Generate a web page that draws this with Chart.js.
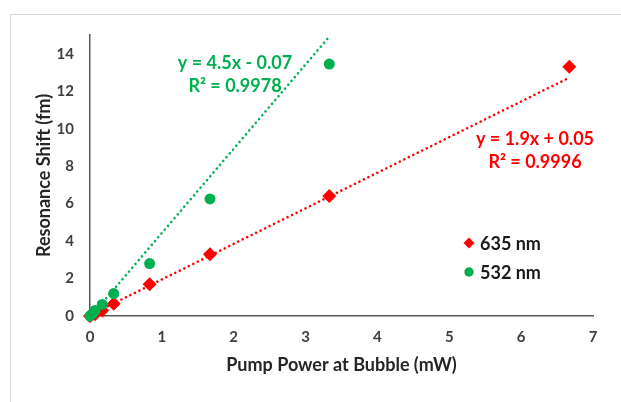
<!DOCTYPE html>
<html>
<head>
<meta charset="utf-8">
<script src="https://cdn.jsdelivr.net/npm/chart.js@4/dist/chart.umd.min.js"></script>
<style>
  html, body { margin: 0; padding: 0; background: #fff; }
  #wrap { width: 621px; height: 402px; position: relative; }
</style>
</head>
<body>
<div id="wrap"><canvas id="c" width="621" height="402"></canvas></div>
<script>
// Pump power (mW) and resonance shift (fm) for the two pump wavelengths
const power635 = [0, 0.07, 0.17, 0.33, 0.83, 1.67, 3.33, 6.67];
const shift635 = [0, 0.1, 0.3, 0.65, 1.7, 3.3, 6.4, 13.3];
const power532 = [0, 0.03, 0.07, 0.17, 0.33, 0.83, 1.67, 3.33];
const shift532 = [0, 0.1, 0.3, 0.62, 1.2, 2.8, 6.25, 13.45];

// Linear fits: [slope, intercept, R²]
const fit635 = [1.9, 0.05, 0.9996];
const fit532 = [4.5, -0.07, 0.9978];

const seriesNames = ['635 nm', '532 nm'];
const xTicks = [0, 1, 2, 3, 4, 5, 6, 7];
const yTicks = [0, 2, 4, 6, 8, 10, 12, 14];

const RED = '#FF0000';
const GREEN = '#00B050';
const FONT = 'Lato, "Open Sans", sans-serif';

function pts(xs, ys) { return xs.map((x, i) => ({ x, y: ys[i] })); }
function fitLine(xs, fit) {
  const lo = Math.min(...xs), hi = Math.max(...xs);
  return [lo, hi].map(x => ({ x, y: fit[0] * x + fit[1] }));
}
function eqText(fit) {
  const sign = fit[1] < 0 ? ' - ' : ' + ';
  return 'y = ' + fit[0].toFixed(1) + 'x' + sign + Math.abs(fit[1]).toFixed(2);
}

const frame = {
  id: 'frame',
  beforeDraw(chart) {
    const ctx = chart.ctx;
    ctx.save();
    ctx.strokeStyle = '#d9d9d9';
    ctx.lineWidth = 1;
    ctx.strokeRect(10.5, 14.5, 700, 500);
    ctx.restore();
  }
};

const notes = {
  id: 'notes',
  afterDraw(chart) {
    const ctx = chart.ctx;
    ctx.save();
    ctx.textAlign = 'center';
    ctx.textBaseline = 'middle';
    ctx.font = 'bold 18px ' + FONT;
    ctx.fillStyle = GREEN;
    ctx.fillText(eqText(fit532), 235, 63);
    ctx.fillText('R² = ' + fit532[2].toFixed(4), 235, 86);
    ctx.fillStyle = RED;
    ctx.fillText(eqText(fit635), 535, 139);
    ctx.fillText('R² = ' + fit635[2].toFixed(4), 535, 162);

    // legend
    ctx.textAlign = 'left';
    ctx.font = 'bold 18px ' + FONT;
    const rows = [
      { name: seriesNames[0], color: RED, style: 'rectRot', y: 243 },
      { name: seriesNames[1], color: GREEN, style: 'circle', y: 272 }
    ];
    rows.forEach(r => {
      ctx.fillStyle = r.color;
      ctx.beginPath();
      if (r.style === 'circle') {
        ctx.arc(469, r.y, 4.7, 0, Math.PI * 2);
      } else {
        ctx.moveTo(469, r.y - 5.5); ctx.lineTo(474.5, r.y);
        ctx.lineTo(469, r.y + 5.5); ctx.lineTo(463.5, r.y);
        ctx.closePath();
      }
      ctx.fill();
      ctx.fillStyle = '#1a1a1a';
      ctx.fillText(r.name, 480, r.y + 1);
    });
    ctx.restore();
  }
};

const dotted = { borderWidth: 2.6, borderCapStyle: 'round', borderDash: [0.01, 5] };

new Chart(document.getElementById('c'), {
  type: 'scatter',
  data: {
    datasets: [
      Object.assign({
        label: 'fit 635', type: 'line', data: fitLine(power635, fit635),
        borderColor: RED, pointRadius: 0, order: 4, clip: false
      }, dotted),
      Object.assign({
        label: 'fit 532', type: 'line', data: fitLine(power532, fit532),
        borderColor: GREEN, pointRadius: 0, order: 3, clip: false
      }, dotted),
      {
        label: seriesNames[0], data: pts(power635, shift635),
        pointStyle: 'rectRot', pointRadius: 7, backgroundColor: RED,
        borderWidth: 0, order: 2, clip: false
      },
      {
        label: seriesNames[1], data: pts(power532, shift532),
        pointStyle: 'circle', pointRadius: 5.5, backgroundColor: GREEN,
        borderWidth: 0, order: 1, clip: false
      }
    ]
  },
  options: {
    responsive: false,
    animation: false,
    events: [],
    layout: { padding: { top: 35, right: 28, left: 0, bottom: 0 } },
    plugins: { legend: { display: false }, tooltip: { enabled: false } },
    scales: {
      x: {
        type: 'linear', min: 0, max: 7,
        afterFit(s) { s.height = 86; },
        afterBuildTicks(s) { s.ticks = xTicks.map(v => ({ value: v })); },
        grid: { display: false, drawTicks: false },
        border: { display: true, color: '#595959', width: 1.5 },
        ticks: { padding: 12, color: '#404040', font: { family: FONT, size: 15, weight: 'bold' } },
        title: {
          display: true, text: 'Pump Power at Bubble (mW)', color: '#262626',
          font: { family: FONT, size: 18, weight: 'bold' }, padding: { top: 0, bottom: 26 }
        }
      },
      y: {
        type: 'linear', min: 0, max: 15,
        afterFit(s) { s.width = 90; },
        afterBuildTicks(s) { s.ticks = yTicks.map(v => ({ value: v })); },
        grid: { display: false, drawTicks: false },
        border: { display: true, color: '#595959', width: 1.5 },
        ticks: { padding: 16, color: '#404040', font: { family: FONT, size: 15, weight: 'bold' } },
        title: {
          display: true, text: 'Resonance Shift (fm)', color: '#262626',
          font: { family: FONT, size: 18, weight: 'bold' }, padding: { top: 33, bottom: 0 }
        }
      }
    }
  },
  plugins: [frame, notes]
});
</script>
</body>
</html>
